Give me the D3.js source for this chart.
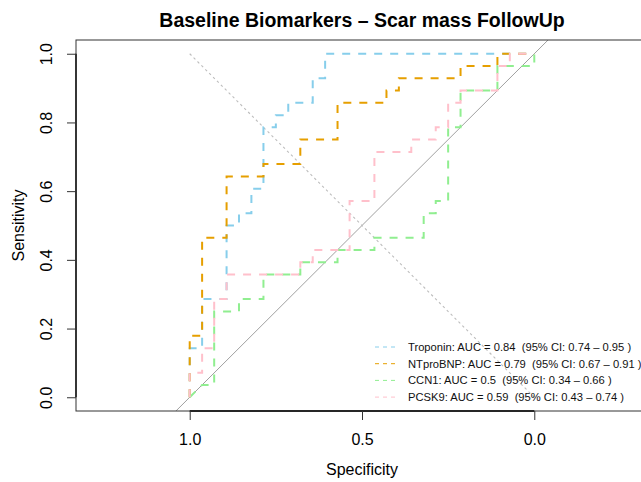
<!DOCTYPE html>
<html lang="en">
<head>
  <meta charset="utf-8">
  <title>Baseline Biomarkers - Scar mass FollowUp</title>
  <style>
    body { margin: 0; background: #fff; }
    svg { font-family: "Liberation Sans", Arial, Helvetica, sans-serif; }
  </style>
</head>
<body>
  <div id="chart"></div>

  <script src="https://d3js.org/d3.v7.min.js"></script>
  <script>
// ROC curve vertices (specificity, sensitivity)
const tropSpec = [1, 1, .964, .964, .893, .893, .857, .857, .821, .821, .786, .786, .75, .75, .714, .714, .643, .643, .607, .607, 0];
const tropSens = [0, .143, .143, .286, .286, .5, .5, .536, .536, .607, .607, .786, .786, .821, .821, .857, .857, .929, .929, 1, 1];

const bnpSpec = [1, 1, .964, .964, .893, .893, .786, .786, .679, .679, .571, .571, .429, .429, .393, .393, .214, .214, .107, .107, 0];
const bnpSens = [0, .179, .179, .464, .464, .643, .643, .679, .679, .75, .75, .857, .857, .893, .893, .929, .929, .964, .964, 1, 1];

const ccnSpec = [1, .964, .929, .929, .857, .857, .786, .786, .679, .679, .571, .571, .464, .464, .321, .321, .286, .286, .25, .25, .214, .214, .107, .107, 0, 0];
const ccnSens = [0, .036, .036, .25, .25, .286, .286, .357, .357, .393, .393, .429, .429, .464, .464, .536, .536, .571, .571, .786, .786, .893, .893, .964, .964, 1];

const pcskSpec = [1, 1, .964, .964, .929, .929, .893, .893, .679, .679, .643, .643, .536, .536, .464, .464, .357, .357, .286, .286, .25, .25, .214, .214, .107, .107, .071, .071, 0];
const pcskSens = [0, .071, .071, .143, .143, .286, .286, .357, .357, .393, .393, .429, .429, .571, .571, .714, .714, .75, .75, .786, .786, .857, .857, .893, .893, .964, .964, 1, 1];

const markers = ["Troponin", "NTproBNP", "CCN1", "PCSK9"];
const aucs = ["0.84", "0.79", "0.5", "0.59"];
const ciLow = ["0.74", "0.67", "0.34", "0.43"];
const ciHigh = ["0.95", "0.91", "0.66", "0.74"];
const colors = ["#87CEEB", "#E69F00", "#90EE90", "#FFC0CB"];

const xTicks = [1.0, 0.5, 0.0];
const yTicks = [0.0, 0.2, 0.4, 0.6, 0.8, 1.0];

const width = 641, height = 482;
const box = { left: 76, right: 648, top: 40, bottom: 411 };

const series = [
  { spec: tropSpec, sens: tropSens },
  { spec: bnpSpec, sens: bnpSens },
  { spec: ccnSpec, sens: ccnSens },
  { spec: pcskSpec, sens: pcskSens }
];

const x = d3.scaleLinear().domain([1.33, -0.33]).range([box.left, box.right]);
const y = d3.scaleLinear().domain([-0.04, 1.04]).range([box.bottom, box.top]);

const svg = d3.select("#chart")
  .append("svg")
  .attr("width", width)
  .attr("height", height);

svg.append("defs").append("clipPath").attr("id", "plotclip")
  .append("rect")
  .attr("x", box.left).attr("y", box.top)
  .attr("width", box.right - box.left).attr("height", box.bottom - box.top);

// reference lines
const plot = svg.append("g").attr("clip-path", "url(#plotclip)");

plot.append("line")
  .attr("x1", x(1.2)).attr("y1", y(-0.2))
  .attr("x2", x(-0.2)).attr("y2", y(1.2))
  .attr("stroke", "#a0a0a0")
  .attr("stroke-width", 1);

plot.append("line")
  .attr("x1", x(1)).attr("y1", y(1))
  .attr("x2", x(0)).attr("y2", y(0))
  .attr("stroke", "#bdbdbd")
  .attr("stroke-width", 1.1)
  .attr("stroke-dasharray", "2.5,3");

// ROC curves
const line = d3.line()
  .x(d => x(d[0]))
  .y(d => y(d[1]));

series.forEach((s, i) => {
  const pts = s.spec.map((v, k) => [v, s.sens[k]]);
  plot.append("path")
    .datum(pts)
    .attr("d", line)
    .attr("fill", "none")
    .attr("stroke", colors[i])
    .attr("stroke-width", 2)
    .attr("stroke-dasharray", "8,8");
});

// box
svg.append("rect")
  .attr("x", box.left).attr("y", box.top)
  .attr("width", box.right - box.left).attr("height", box.bottom - box.top)
  .attr("fill", "none")
  .attr("stroke", "#333")
  .attr("stroke-width", 1);

// axes
const xAxis = d3.axisBottom(x)
  .tickValues(xTicks)
  .tickFormat(d3.format(".1f"))
  .tickSize(9)
  .tickPadding(14);

const gx = svg.append("g")
  .attr("transform", `translate(0,${box.bottom})`)
  .call(xAxis);
gx.select(".domain").attr("d", `M${x(1)},0H${x(0)}`).attr("stroke", "#000").attr("stroke-width", 1.3);
gx.selectAll(".tick line").attr("stroke", "#333");
gx.selectAll("text").attr("font-size", 16).attr("fill", "#000")
  .attr("font-family", "Liberation Sans, Arial, sans-serif");

const yAxis = d3.axisLeft(y)
  .tickValues(yTicks)
  .tickFormat(d3.format(".1f"))
  .tickSize(9);

const gy = svg.append("g")
  .attr("transform", `translate(${box.left},0)`)
  .call(yAxis);
gy.select(".domain").attr("d", `M0,${y(0)}V${y(1)}`).attr("stroke", "#000").attr("stroke-width", 1.3);
gy.selectAll(".tick line").attr("stroke", "#333");
gy.selectAll("text")
  .attr("font-size", 16).attr("fill", "#000")
  .attr("font-family", "Liberation Sans, Arial, sans-serif")
  .attr("x", null).attr("dy", null)
  .attr("text-anchor", "middle")
  .attr("transform", "translate(-24,0) rotate(-90)");

// titles
svg.append("text")
  .attr("x", x(0.5)).attr("y", 27)
  .attr("text-anchor", "middle")
  .attr("font-size", 19.5)
  .attr("font-weight", "bold")
  .text("Baseline Biomarkers \u2013 Scar mass FollowUp");

svg.append("text")
  .attr("x", x(0.5)).attr("y", 475)
  .attr("text-anchor", "middle")
  .attr("font-size", 16)
  .text("Specificity");

svg.append("text")
  .attr("transform", `translate(24,${y(0.5)}) rotate(-90)`)
  .attr("text-anchor", "middle")
  .attr("font-size", 16)
  .text("Sensitivity");

// legend
const legend = svg.append("g");
markers.forEach((m, i) => {
  const ly = 347 + i * 16.7;
  legend.append("line")
    .attr("x1", 375).attr("x2", 398)
    .attr("y1", ly).attr("y2", ly)
    .attr("stroke", colors[i])
    .attr("stroke-width", 1)
    .attr("stroke-dasharray", "4,4");
  legend.append("text")
    .attr("x", 408).attr("y", ly + 4)
    .attr("font-size", 11.2)
    .attr("fill", "#111")
    .style("white-space", "pre")
    .text(`${m}: AUC = ${aucs[i]}  (95% CI: ${ciLow[i]} \u2013 ${ciHigh[i]} )`);
});
  </script>
</body>
</html>
